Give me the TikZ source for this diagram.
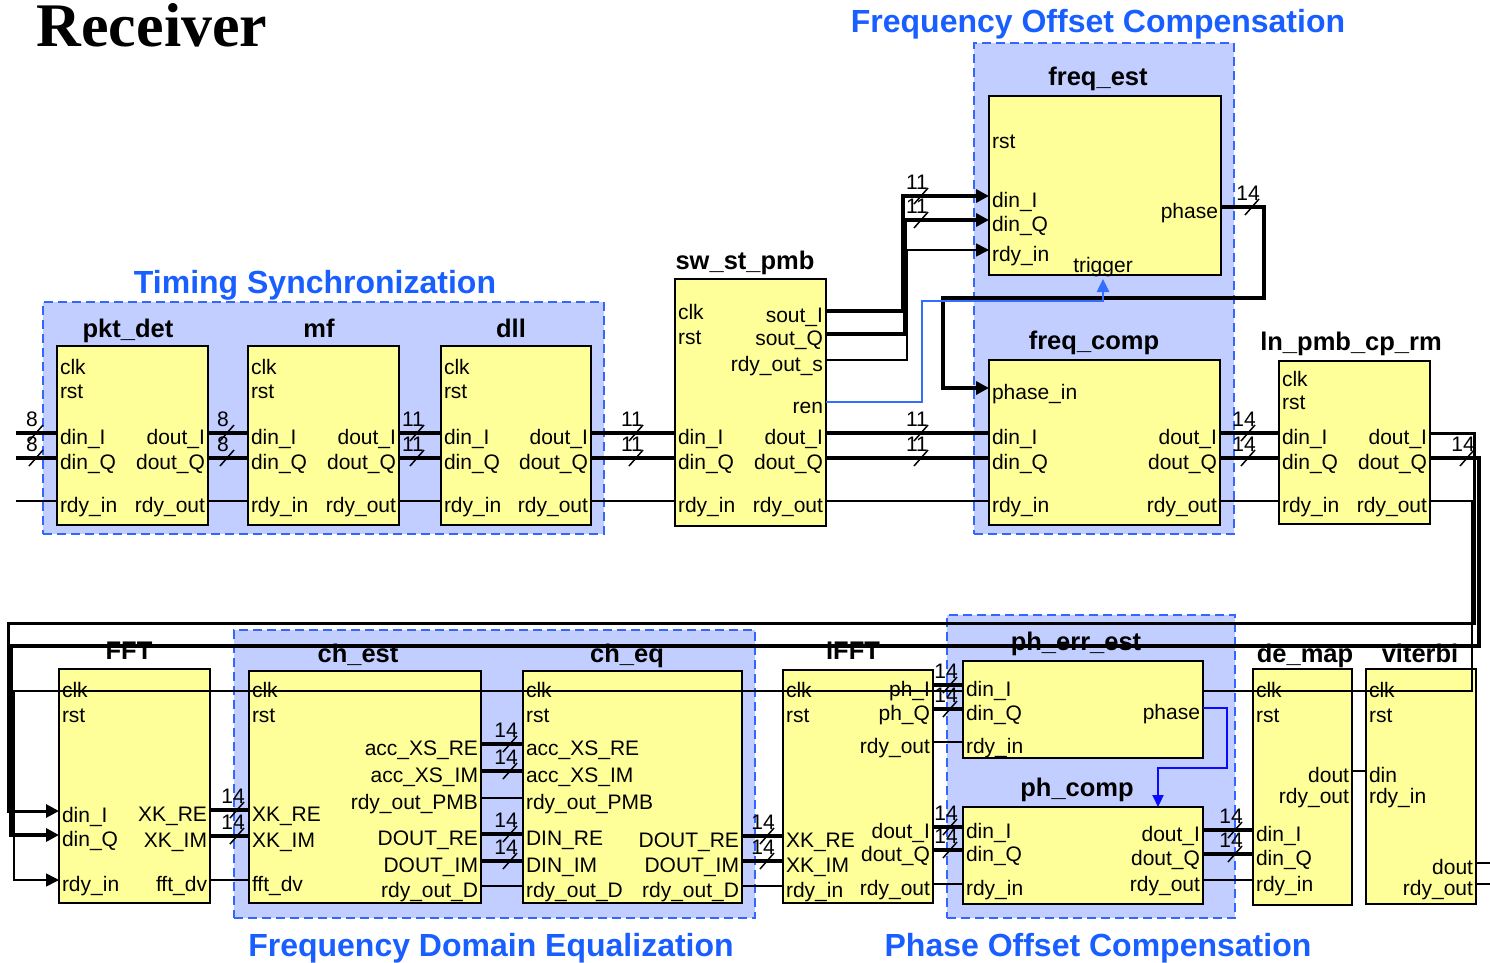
\documentclass[tikz,border=0pt]{standalone}
\usepackage{fontspec}
\setmainfont{Liberation Sans}
\newfontfamily\serifbold{Liberation Serif}
\usetikzlibrary{arrows.meta}
\definecolor{grpfill}{RGB}{194,206,255}
\definecolor{grpline}{RGB}{51,102,255}
\definecolor{gtxt}{RGB}{25,95,255}
\definecolor{modfill}{RGB}{255,255,153}
\definecolor{renblue}{RGB}{51,110,255}
\definecolor{phblue}{RGB}{10,10,255}
\newcommand\portfont{\fontsize{21}{24}\selectfont}
\newcommand\ttlfont{\fontsize{25.5}{28}\selectfont\bfseries}
\newcommand\gttlfont{\fontsize{32}{36}\selectfont\bfseries}
\newcommand\numfont{\fontsize{21}{23}\selectfont}
\newcommand\portL[4]{\node[pl] (#1) at (#2,#3) {#4};}
\newcommand\portR[4]{\node[pr] (#1) at (#2,#3) {#4};}
\tikzset{
  grp/.style={draw=grpline, fill=grpfill, line width=2.2pt, dash pattern=on 9pt off 5pt, anchor=north west, inner sep=0pt, outer sep=0pt},
  mod/.style={draw=black, fill=modfill, line width=2.2pt, anchor=north west, inner sep=0pt, outer sep=0pt},
  pl/.style={anchor=west, font=\portfont, inner xsep=3pt, inner ysep=0pt, outer sep=0pt, text height=22pt, text depth=0pt},
  pr/.style={pl, anchor=east},
  ttl/.style={font=\ttlfont, anchor=base, inner sep=0pt},
  gttl/.style={font=\gttlfont, text=gtxt, anchor=base, inner sep=0pt},
  bus/.style={line width=3.8pt},
  sig/.style={line width=1.6pt},
  arr/.style={-{Triangle[length=13pt,width=13pt]}},
  renl/.style={draw=renblue, line width=2.6pt},
  phl/.style={draw=phblue, line width=2.2pt},
  numl/.style={font=\numfont, inner sep=0pt},
  slashmark/.pic={\draw[line width=1.5pt] (-7,8) -- (7,-8); \node[numl] (-n) at (-4,-14) {#1};}
}
\begin{document}
\begin{tikzpicture}[x=1pt,y=-1pt]
\useasboundingbox[fill=white] (0,0) rectangle (1490,963);

% title
\node[font=\serifbold\fontsize{62}{64}\selectfont\bfseries, anchor=base, inner sep=0pt] (recv) at (152,47) {Receiver};

% groups
\node[grp, minimum width=561, minimum height=232] (gts) at (43,302) {};
\node[grp, minimum width=260, minimum height=491] (gfoc) at (974,43) {};
\node[grp, minimum width=521, minimum height=288] (gfde) at (234,630) {};
\node[grp, minimum width=288, minimum height=303] (gpoc) at (947,615) {};
\node[gttl] (t-ts) at (315,293) {Timing Synchronization};
\node[gttl] (t-foc) at (1098,33) {Frequency Offset Compensation};
\node[gttl] (t-fde) at (491,956) {Frequency Domain Equalization};
\node[gttl] (t-poc) at (1098,956) {Phase Offset Compensation};

% modules
\node[mod, minimum width=151, minimum height=179] (pkt) at (57,346) {};
\node[mod, minimum width=151, minimum height=179] (mf) at (248,346) {};
\node[mod, minimum width=150, minimum height=179] (dll) at (441,346) {};
\node[mod, minimum width=151, minimum height=247] (sw) at (675,279) {};
\node[mod, minimum width=232, minimum height=179] (fe) at (989,96) {};
\node[mod, minimum width=231, minimum height=165] (fc) at (989,360) {};
\node[mod, minimum width=151, minimum height=163] (ln) at (1279,361) {};
\node[mod, minimum width=151, minimum height=234] (fft) at (59,669) {};
\node[mod, minimum width=232, minimum height=232] (ce) at (249,671) {};
\node[mod, minimum width=219, minimum height=232] (cq) at (523,671) {};
\node[mod, minimum width=150, minimum height=233] (ifft) at (783,670) {};
\node[mod, minimum width=240, minimum height=97] (pc) at (963,807) {};
\node[mod, minimum width=99, minimum height=236] (dm) at (1253,669) {};
\node[mod, minimum width=110, minimum height=235] (vt) at (1366,669) {};

% module titles
\node[ttl] (t-pkt) at (128,337) {pkt\_det};
\node[ttl] (t-mf) at (319,337) {mf};
\node[ttl] (t-dll) at (511,337) {dll};
\node[ttl] (t-sw) at (745,269) {sw\_st\_pmb};
\node[ttl] (t-fe) at (1098,86) {freq\_est};
\node[ttl] (t-fc) at (1094,349) {freq\_comp};
\node[ttl] (t-ln) at (1351,350) {ln\_pmb\_cp\_rm};
\node[ttl] (t-fft) at (129,659) {FFT};
\node[ttl] (t-ce) at (358,662) {ch\_est};
\node[ttl] (t-cq) at (627,662) {ch\_eq};
\node[ttl] (t-ifft) at (853,659) {IFFT};
\node[ttl] (t-pe) at (1076,650) {ph\_err\_est};
\node[ttl] (t-pc) at (1077,796) {ph\_comp};
\node[ttl] (t-dm) at (1305,662) {de\_map};
\node[ttl] (t-vt) at (1420,662) {viterbi};

% ports row 1
\portL{pkt-clk}{57}{363}{clk}
\portL{pkt-rst}{57}{387}{rst}
\portL{pkt-dinI}{57}{433}{din\_I}
\portL{pkt-dinQ}{57}{458}{din\_Q}
\portL{pkt-rdyin}{57}{501}{rdy\_in}
\portR{pkt-doutI}{208}{433}{dout\_I}
\portR{pkt-doutQ}{208}{458}{dout\_Q}
\portR{pkt-rdyout}{208}{501}{rdy\_out}

\portL{mf-clk}{248}{363}{clk}
\portL{mf-rst}{248}{387}{rst}
\portL{mf-dinI}{248}{433}{din\_I}
\portL{mf-dinQ}{248}{458}{din\_Q}
\portL{mf-rdyin}{248}{501}{rdy\_in}
\portR{mf-doutI}{399}{433}{dout\_I}
\portR{mf-doutQ}{399}{458}{dout\_Q}
\portR{mf-rdyout}{399}{501}{rdy\_out}

\portL{dll-clk}{441}{363}{clk}
\portL{dll-rst}{441}{387}{rst}
\portL{dll-dinI}{441}{433}{din\_I}
\portL{dll-dinQ}{441}{458}{din\_Q}
\portL{dll-rdyin}{441}{501}{rdy\_in}
\portR{dll-doutI}{591}{433}{dout\_I}
\portR{dll-doutQ}{591}{458}{dout\_Q}
\portR{dll-rdyout}{591}{501}{rdy\_out}

\portL{sw-clk}{675}{308}{clk}
\portL{sw-rst}{675}{333}{rst}
\portL{sw-dinI}{675}{433}{din\_I}
\portL{sw-dinQ}{675}{458}{din\_Q}
\portL{sw-rdyin}{675}{501}{rdy\_in}
\portR{sw-soutI}{826}{311}{sout\_I}
\portR{sw-soutQ}{826}{334}{sout\_Q}
\portR{sw-rdyouts}{826}{360}{rdy\_out\_s}
\portR{sw-ren}{826}{402}{ren}
\portR{sw-doutI}{826}{433}{dout\_I}
\portR{sw-doutQ}{826}{458}{dout\_Q}
\portR{sw-rdyout}{826}{501}{rdy\_out}

\portL{fe-rst}{989}{137}{rst}
\portL{fe-dinI}{989}{196}{din\_I}
\portL{fe-dinQ}{989}{220}{din\_Q}
\portL{fe-rdyin}{989}{250}{rdy\_in}
\portR{fe-phase}{1221}{207}{phase}
\node[font=\portfont, anchor=base, inner sep=0pt] (fe-trig) at (1103,272) {trigger};

\portL{fc-phasein}{989}{388}{phase\_in}
\portL{fc-dinI}{989}{433}{din\_I}
\portL{fc-dinQ}{989}{458}{din\_Q}
\portL{fc-rdyin}{989}{501}{rdy\_in}
\portR{fc-doutI}{1220}{433}{dout\_I}
\portR{fc-doutQ}{1220}{458}{dout\_Q}
\portR{fc-rdyout}{1220}{501}{rdy\_out}

\portL{ln-clk}{1279}{375}{clk}
\portL{ln-rst}{1279}{398}{rst}
\portL{ln-dinI}{1279}{433}{din\_I}
\portL{ln-dinQ}{1279}{458}{din\_Q}
\portL{ln-rdyin}{1279}{501}{rdy\_in}
\portR{ln-doutI}{1430}{433}{dout\_I}
\portR{ln-doutQ}{1430}{458}{dout\_Q}
\portR{ln-rdyout}{1430}{501}{rdy\_out}

% ports row 2
\portL{fft-clk}{59}{686}{clk}
\portL{fft-rst}{59}{711}{rst}
\portL{fft-dinI}{59}{811}{din\_I}
\portL{fft-dinQ}{59}{835}{din\_Q}
\portL{fft-rdyin}{59}{880}{rdy\_in}
\portR{fft-XKRE}{210}{810}{XK\_RE}
\portR{fft-XKIM}{210}{836}{XK\_IM}
\portR{fft-fftdv}{210}{880}{fft\_dv}

\portL{ce-clk}{249}{686}{clk}
\portL{ce-rst}{249}{711}{rst}
\portL{ce-XKRE}{249}{810}{XK\_RE}
\portL{ce-XKIM}{249}{836}{XK\_IM}
\portL{ce-fftdv}{249}{880}{fft\_dv}
\portR{ce-accRE}{481}{744}{acc\_XS\_RE}
\portR{ce-accIM}{481}{771}{acc\_XS\_IM}
\portR{ce-pmb}{481}{798}{rdy\_out\_PMB}
\portR{ce-doutRE}{481}{834}{DOUT\_RE}
\portR{ce-doutIM}{481}{861}{DOUT\_IM}
\portR{ce-rdyD}{481}{886}{rdy\_out\_D}

\portL{cq-clk}{523}{686}{clk}
\portL{cq-rst}{523}{711}{rst}
\portL{cq-accRE}{523}{744}{acc\_XS\_RE}
\portL{cq-accIM}{523}{771}{acc\_XS\_IM}
\portL{cq-pmb}{523}{798}{rdy\_out\_PMB}
\portL{cq-dinRE}{523}{834}{DIN\_RE}
\portL{cq-dinIM}{523}{861}{DIN\_IM}
\portL{cq-rdyDin}{523}{886}{rdy\_out\_D}
\portR{cq-doutRE}{742}{836}{DOUT\_RE}
\portR{cq-doutIM}{742}{861}{DOUT\_IM}
\portR{cq-rdyD}{742}{886}{rdy\_out\_D}

\portL{ifft-clk}{783}{686}{clk}
\portL{ifft-rst}{783}{711}{rst}
\portL{ifft-XKRE}{783}{836}{XK\_RE}
\portL{ifft-XKIM}{783}{861}{XK\_IM}
\portL{ifft-rdyin}{783}{886}{rdy\_in}
\portR{ifft-phI}{933}{685}{ph\_I}
\portR{ifft-phQ}{933}{709}{ph\_Q}
\portR{ifft-rdyph}{933}{742}{rdy\_out}
\portR{ifft-doutI}{933}{827}{dout\_I}
\portR{ifft-doutQ}{933}{850}{dout\_Q}
\portR{ifft-rdyout}{933}{884}{rdy\_out}

\portL{pc-dinI}{963}{827}{din\_I}
\portL{pc-dinQ}{963}{850}{din\_Q}
\portL{pc-rdyin}{963}{884}{rdy\_in}
\portR{pc-doutI}{1203}{830}{dout\_I}
\portR{pc-doutQ}{1203}{854}{dout\_Q}
\portR{pc-rdyout}{1203}{880}{rdy\_out}

\portL{dm-clk}{1253}{686}{clk}
\portL{dm-rst}{1253}{711}{rst}
\portL{dm-dinI}{1253}{830}{din\_I}
\portL{dm-dinQ}{1253}{854}{din\_Q}
\portL{dm-rdyin}{1253}{880}{rdy\_in}
\portR{dm-dout}{1352}{771}{dout}
\portR{dm-rdyout}{1352}{792}{rdy\_out}

\portL{vt-clk}{1366}{686}{clk}
\portL{vt-rst}{1366}{711}{rst}
\portL{vt-din}{1366}{771}{din}
\portL{vt-rdyin}{1366}{792}{rdy\_in}
\portR{vt-dout}{1476}{863}{dout}
\portR{vt-rdyout}{1476}{884}{rdy\_out}

% free ends
\coordinate (in-I) at (16,433);
\coordinate (in-Q) at (16,458);
\coordinate (in-r) at (16,501);
\coordinate (out-d) at (1490,863);
\coordinate (out-r) at (1490,884);
\coordinate (fe-trigtip) at (1103,279);
\coordinate (pc-ph) at (1158,807);

% long feedback lines (over lower boxes)
\draw[line width=3pt, arr] (ln-doutI.east) -- (1474,433) -- (1474,623) -- (8,623) |- (fft-dinI.west);
\draw[bus, arr] (ln-doutQ.east) -- (1479,458) -- (1479,646) -- (11,646) |- (fft-dinQ.west);
\draw[sig, arr] (ln-rdyout.east) -- (1472,501) -- (1472,691) -- (14,691) |- (fft-rdyin.west);

% ph_err_est box drawn over the thin line
\node[mod, minimum width=240, minimum height=97] (pe) at (963,661) {};
\portL{pe-dinI}{963}{685}{din\_I}
\portL{pe-dinQ}{963}{709}{din\_Q}
\portL{pe-rdyin}{963}{742}{rdy\_in}
\portR{pe-phase}{1203}{708}{phase}

% row 1 connectors
\draw[bus] (in-I) -- (pkt-dinI.west);
\draw[bus] (in-Q) -- (pkt-dinQ.west);
\draw[sig] (in-r) -- (pkt-rdyin.west);
\draw[bus] (pkt-doutI.east) -- (mf-dinI.west);
\draw[bus] (pkt-doutQ.east) -- (mf-dinQ.west);
\draw[sig] (pkt-rdyout.east) -- (mf-rdyin.west);
\draw[bus] (mf-doutI.east) -- (dll-dinI.west);
\draw[bus] (mf-doutQ.east) -- (dll-dinQ.west);
\draw[sig] (mf-rdyout.east) -- (dll-rdyin.west);
\draw[bus] (dll-doutI.east) -- (sw-dinI.west);
\draw[bus] (dll-doutQ.east) -- (sw-dinQ.west);
\draw[sig] (dll-rdyout.east) -- (sw-rdyin.west);
\draw[bus, arr] (sw-soutI.east) -| (903,196) -- (fe-dinI.west);
\draw[bus, arr] (sw-soutQ.east) -| (905,220) -- (fe-dinQ.west);
\draw[sig, arr] (sw-rdyouts.east) -| (907,250) -- (fe-rdyin.west);
\draw[bus, arr] (fe-phase.east) -| (1264,298) -| (943,388) -- (fc-phasein.west);
\draw[renl, -{Triangle[length=13pt,width=12pt]}] (sw-ren.east) -| (922,301) -| (fe-trigtip);
\draw[bus] (sw-doutI.east) -- (fc-dinI.west);
\draw[bus] (sw-doutQ.east) -- (fc-dinQ.west);
\draw[sig] (sw-rdyout.east) -- (fc-rdyin.west);
\draw[bus] (fc-doutI.east) -- (ln-dinI.west);
\draw[bus] (fc-doutQ.east) -- (ln-dinQ.west);
\draw[sig] (fc-rdyout.east) -- (ln-rdyin.west);

% row 2 connectors
\draw[bus] (fft-XKRE.east) -- (ce-XKRE.west);
\draw[bus] (fft-XKIM.east) -- (ce-XKIM.west);
\draw[sig] (fft-fftdv.east) -- (ce-fftdv.west);
\draw[bus] (ce-accRE.east) -- (cq-accRE.west);
\draw[bus] (ce-accIM.east) -- (cq-accIM.west);
\draw[sig] (ce-pmb.east) -- (cq-pmb.west);
\draw[bus] (ce-doutRE.east) -- (cq-dinRE.west);
\draw[bus] (ce-doutIM.east) -- (cq-dinIM.west);
\draw[sig] (ce-rdyD.east) -- (cq-rdyDin.west);
\draw[bus] (cq-doutRE.east) -- (ifft-XKRE.west);
\draw[bus] (cq-doutIM.east) -- (ifft-XKIM.west);
\draw[sig] (cq-rdyD.east) -- (ifft-rdyin.west);
\draw[bus] (ifft-phI.east) -- (pe-dinI.west);
\draw[bus] (ifft-phQ.east) -- (pe-dinQ.west);
\draw[sig] (ifft-rdyph.east) -- (pe-rdyin.west);
\draw[bus] (ifft-doutI.east) -- (pc-dinI.west);
\draw[bus] (ifft-doutQ.east) -- (pc-dinQ.west);
\draw[sig] (ifft-rdyout.east) -- (pc-rdyin.west);
\draw[phl, -{Triangle[length=12pt,width=11pt]}] (pe-phase.east) -| (1227,768) -| (pc-ph);
\draw[bus] (pc-doutI.east) -- (dm-dinI.west);
\draw[bus] (pc-doutQ.east) -- (dm-dinQ.west);
\draw[sig] (pc-rdyout.east) -- (dm-rdyin.west);
\draw[sig] (dm-dout.east) -- (vt-din.west);
\draw[sig] (vt-dout.east) -- (out-d);
\draw[sig] (vt-rdyout.east) -- (out-r);

% bus width marks
\pic (b1) at (36,433) {slashmark=8};
\pic (b2) at (36,458) {slashmark=8};
\pic (b3) at (227,433) {slashmark=8};
\pic (b4) at (227,458) {slashmark=8};
\pic (b5) at (417,433) {slashmark=11};
\pic (b6) at (417,458) {slashmark=11};
\pic (b7) at (636,433) {slashmark=11};
\pic (b8) at (636,458) {slashmark=11};
\pic (b9) at (921,196) {slashmark=11};
\pic (b10) at (921,220) {slashmark=11};
\pic (b11) at (921,433) {slashmark=11};
\pic (b12) at (921,458) {slashmark=11};
\pic (b13) at (1248,433) {slashmark=14};
\pic (b14) at (1248,458) {slashmark=14};
\pic (b15) at (1252,207) {slashmark=14};
\pic (b16) at (1467,458) {slashmark=14};
\pic (b17) at (237,810) {slashmark=14};
\pic (b18) at (237,836) {slashmark=14};
\pic (b19) at (510,744) {slashmark=14};
\pic (b20) at (510,771) {slashmark=14};
\pic (b21) at (510,834) {slashmark=14};
\pic (b22) at (510,861) {slashmark=14};
\pic (b23) at (767,836) {slashmark=14};
\pic (b24) at (767,861) {slashmark=14};
\pic (b25) at (950,685) {slashmark=14};
\pic (b26) at (950,709) {slashmark=14};
\pic (b27) at (950,827) {slashmark=14};
\pic (b28) at (950,850) {slashmark=14};
\pic (b29) at (1235,830) {slashmark=14};
\pic (b30) at (1235,854) {slashmark=14};
\end{tikzpicture}
\end{document}
